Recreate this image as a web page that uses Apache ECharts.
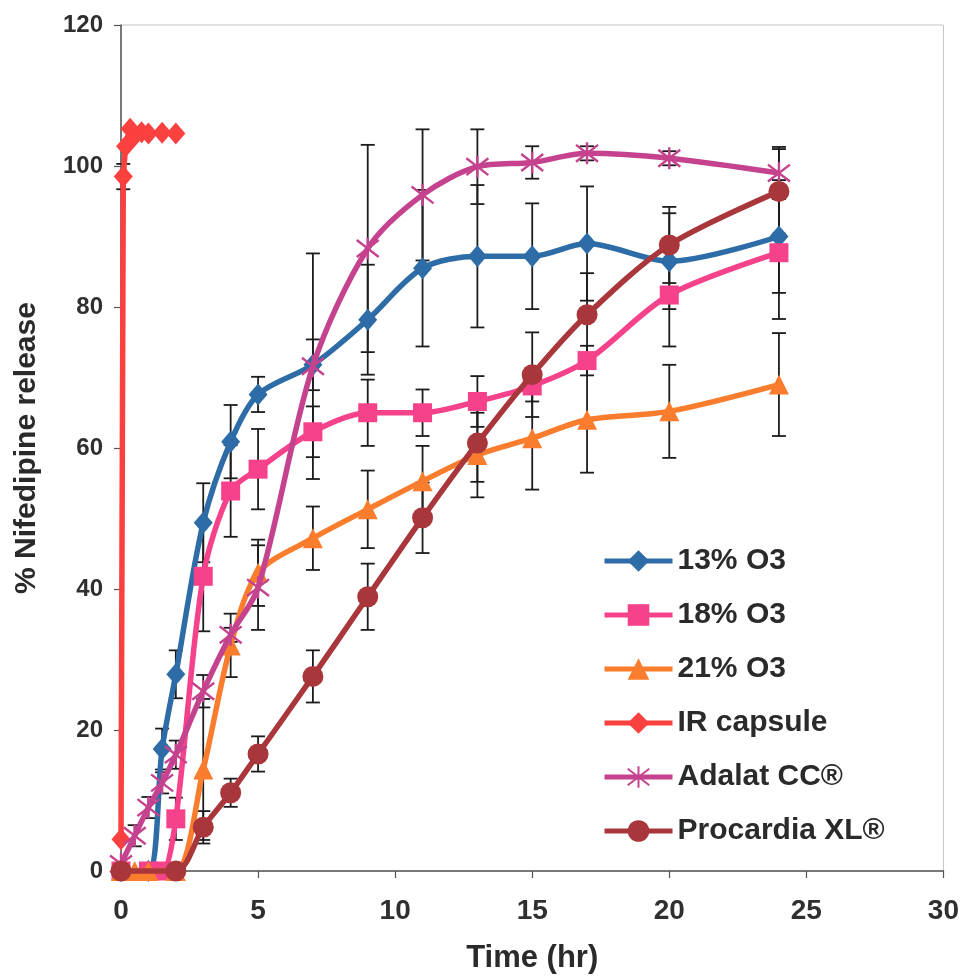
<!DOCTYPE html>
<html>
<head>
<meta charset="utf-8">
<script src="https://cdn.jsdelivr.net/npm/echarts@6/dist/echarts.min.js"></script>
<style>
  html, body { margin: 0; padding: 0; background: #ffffff; }
  #chart { width: 962px; height: 979px; }
</style>
</head>
<body>
<div id="chart"></div>
<script>
// Nifedipine release profiles (time in hours, % released, ± SD)
const t13 = [0, 1, 1.5, 2, 3, 4, 5, 7, 9, 11, 13, 15, 17, 20, 24];
const o13 = [0, 0, 17.3, 27.9, 49.4, 60.9, 67.6, 71.8, 78.2, 85.5, 87.2, 87.2, 89.0, 86.5, 90.0];
const e13 = [0, 0, 2.9, 3.4, 5.6, 5.2, 2.5, 3.6, 7.8, 11.1, 10.1, 7.5, 8.1, 6.8, 8.0];

const t18 = [0, 1, 1.5, 2, 3, 4, 5, 7, 9, 11, 13, 15, 17, 20, 24];
const o18 = [0, 0, 0, 7.4, 41.8, 53.9, 57.0, 62.3, 65.0, 65.0, 66.6, 68.8, 72.4, 81.7, 87.7];
const e18 = [0, 0, 0, 3.0, 7.8, 6.5, 5.7, 3.6, 4.7, 3.3, 3.6, 2.2, 2.1, 7.3, 9.4];

const t21 = [0, 0.5, 1, 2, 3, 4, 5, 7, 9, 11, 13, 15, 17, 20, 24];
const o21 = [0, 0, 0, 0, 14.4, 32.0, 42.3, 47.2, 51.3, 55.3, 59.0, 61.4, 64.0, 65.2, 69.0];
const e21 = [0, 0, 0, 0, 10.0, 4.5, 4.7, 4.5, 5.5, 5.0, 6.0, 7.3, 7.5, 6.6, 7.3];

const tIR = [0, 0.083, 0.167, 0.333, 0.5, 0.75, 1, 1.5, 2];
const oIR = [4.5, 98.5, 102.8, 105.3, 104.3, 104.8, 104.6, 104.7, 104.6];
const eIR = [0, 1.8, 0, 0, 0, 0, 0, 0, 0];

const tAd = [0, 0.5, 1, 1.5, 2, 3, 4, 5, 7, 9, 11, 13, 15, 17, 20, 24];
const oAd = [1.0, 5.0, 9.0, 12.5, 16.5, 25.5, 33.5, 40.2, 71.6, 88.3, 95.9, 99.9, 100.5, 101.8, 101.1, 99.0];
const eAd = [0, 1.5, 1.5, 1.5, 2.0, 2.3, 1.0, 6.0, 16.0, 14.7, 9.3, 5.3, 2.3, 1.0, 1.0, 3.7];

const tPr = [0, 2, 3, 4, 5, 7, 9, 11, 13, 15, 17, 20, 24];
const oPr = [0, 0, 6.2, 11.1, 16.6, 27.6, 38.9, 50.1, 60.7, 70.4, 78.9, 88.8, 96.4];
const ePr = [0, 0, 2.3, 2.0, 2.5, 3.7, 4.7, 5.0, 5.5, 6.0, 5.9, 5.4, 6.0];

const seriesNames = ['13% O3', '18% O3', '21% O3', 'IR capsule', 'Adalat CC®', 'Procardia XL®'];
const xTicks = [0, 5, 10, 15, 20, 25, 30];
const yTicks = [0, 20, 40, 60, 80, 100, 120];

const starPath = 'path://M0,0L10,10M10,0L0,10M5,-1.5L5,11.5';

const profiles = [
  { t: t13, v: o13, e: e13, color: '#2d6ca6', symbol: 'diamond', size: [19, 22] },
  { t: t18, v: o18, e: e18, color: '#f5428b', symbol: 'rect', size: 19 },
  { t: t21, v: o21, e: e21, color: '#fa7d2e', symbol: 'triangle', size: 20 },
  { t: tIR, v: oIR, e: eIR, color: '#fb4040', symbol: 'diamond', size: [19, 22] },
  { t: tAd, v: oAd, e: eAd, color: '#c5438e', symbol: starPath, size: 22 },
  { t: tPr, v: oPr, e: ePr, color: '#a8363a', symbol: 'circle', size: 21 }
];

// vertical error bars with caps, one point per [time, low, high]
const barData = [];
profiles.forEach(p => {
  p.t.forEach((t, i) => {
    if (p.e[i] > 0) barData.push([t, p.v[i] - p.e[i], p.v[i] + p.e[i]]);
  });
});

function renderBar(params, api) {
  const x = api.value(0);
  const lo = api.coord([x, api.value(1)]);
  const hi = api.coord([x, api.value(2)]);
  const half = 7;
  const st = { stroke: '#1c1c1c', lineWidth: 1.8 };
  return {
    type: 'group',
    children: [
      { type: 'line', shape: { x1: lo[0], y1: lo[1], x2: hi[0], y2: hi[1] }, style: st },
      { type: 'line', shape: { x1: lo[0] - half, y1: lo[1], x2: lo[0] + half, y2: lo[1] }, style: st },
      { type: 'line', shape: { x1: hi[0] - half, y1: hi[1], x2: hi[0] + half, y2: hi[1] }, style: st }
    ]
  };
}

const lineSeries = profiles.map((p, k) => {
  const isStar = p.symbol === starPath;
  return {
    name: seriesNames[k],
    type: 'line',
    data: p.t.map((t, i) => [t, p.v[i]]),
    smooth: k === 3 ? false : 0.3,
    clip: false,
    z: 3 + k,
    symbol: p.symbol,
    symbolSize: p.size,
    showAllSymbol: true,
    lineStyle: { color: p.color, width: 5.5 },
    itemStyle: isStar
      ? { color: p.color, borderColor: p.color, borderWidth: 2.4 }
      : { color: p.color, borderWidth: 0 },
    emphasis: { disabled: true },
    animation: false
  };
});

const chart = echarts.init(document.getElementById('chart'), null, { renderer: 'canvas' });
chart.setOption({
  backgroundColor: '#ffffff',
  animation: false,
  grid: {
    left: 121, top: 25, right: 16, bottom: 107,
    show: true, borderColor: '#c4c4c4', borderWidth: 1
  },
  legend: {
    orient: 'vertical',
    left: 597, top: 541,
    itemWidth: 68, itemHeight: 27,
    itemGap: 24,
    data: seriesNames,
    lineStyle: { width: 5 },
    textStyle: { fontFamily: 'Liberation Sans, Arial, sans-serif', fontWeight: 'bold', fontSize: 30, color: '#2a2a2a', padding: [0, 0, 0, 0] }
  },
  xAxis: {
    type: 'value',
    min: 0, max: 30, interval: 5,
    name: 'Time (hr)',
    nameLocation: 'middle',
    nameGap: 72,
    nameTextStyle: { fontFamily: 'Liberation Sans, Arial, sans-serif', fontWeight: 'bold', fontSize: 31, color: '#2a2a2a' },
    axisLine: { lineStyle: { color: '#555555', width: 1.5 } },
    axisTick: { show: true, inside: false, length: 7, lineStyle: { color: '#555555', width: 1.2 } },
    axisLabel: {
      margin: 26,
      fontFamily: 'Liberation Sans, Arial, sans-serif', fontWeight: 'bold', fontSize: 28, color: '#2f2f2f',
      formatter: v => (xTicks.indexOf(v) >= 0 ? String(v) : '')
    },
    splitLine: { show: false }
  },
  yAxis: {
    type: 'value',
    min: 0, max: 120, interval: 20,
    name: '% Nifedipine release',
    nameLocation: 'middle',
    nameGap: 79,
    nameTextStyle: { fontFamily: 'Liberation Sans, Arial, sans-serif', fontWeight: 'bold', fontSize: 30, color: '#2a2a2a' },
    axisLine: { show: true, lineStyle: { color: '#555555', width: 1.5 } },
    axisTick: { show: true, inside: false, length: 7, lineStyle: { color: '#555555', width: 1.2 } },
    axisLabel: {
      margin: 18,
      fontFamily: 'Liberation Sans, Arial, sans-serif', fontWeight: 'bold', fontSize: 24, color: '#2f2f2f',
      formatter: v => (yTicks.indexOf(v) >= 0 ? String(v) : '')
    },
    splitLine: { show: false }
  },
  series: [
    {
      name: 'errorbars',
      type: 'custom',
      renderItem: renderBar,
      data: barData,
      encode: { x: 0, y: [1, 2] },
      z: 2,
      clip: false,
      silent: true,
      animation: false
    }
  ].concat(lineSeries)
});
</script>
</body>
</html>
